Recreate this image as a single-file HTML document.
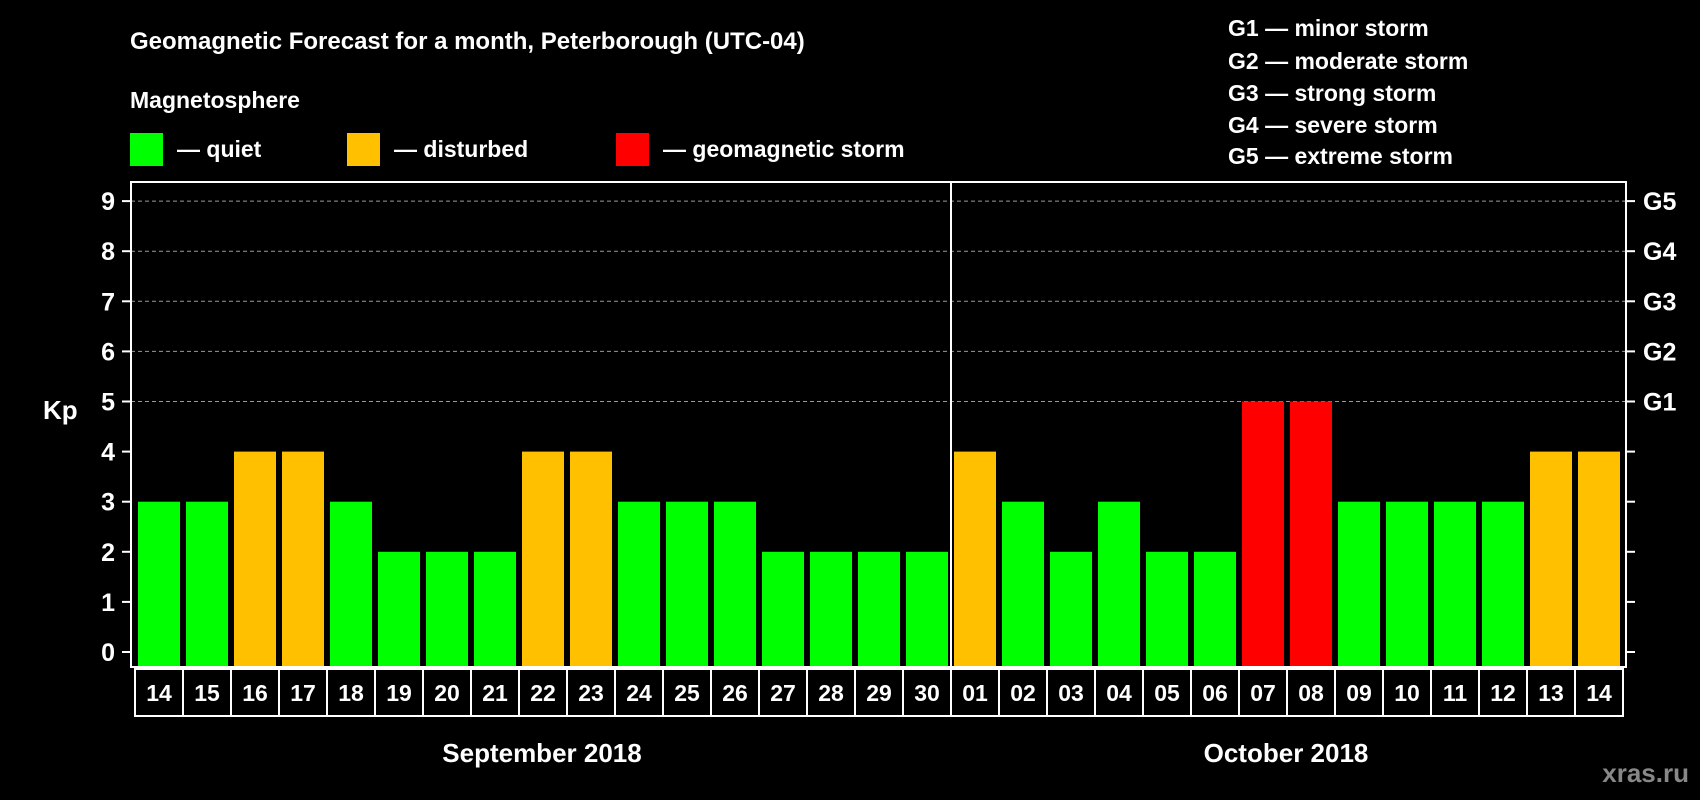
<!DOCTYPE html>
<html><head><meta charset="utf-8">
<style>
html,body{margin:0;padding:0;background:#000;}
svg{display:block;font-family:"Liberation Sans",Arial,sans-serif;font-weight:bold;}
</style></head>
<body>
<svg id="chart" width="1700" height="800" viewBox="0 0 1700 800">
<rect width="1700" height="800" fill="#000"/>
<text x="130" y="49" fill="#fff" font-size="24">Geomagnetic Forecast for a month, Peterborough (UTC-04)</text>
<text x="130" y="108" fill="#fff" font-size="23">Magnetosphere</text>
<g>
<rect x="130" y="133" width="33" height="33" fill="#00ff00"/>
<text x="177" y="157" fill="#fff" font-size="23">— quiet</text></g>
<g>
<rect x="347" y="133" width="33" height="33" fill="#ffc000"/>
<text x="394" y="157" fill="#fff" font-size="23">— disturbed</text></g>
<g>
<rect x="616" y="133" width="33" height="33" fill="#ff0000"/>
<text x="663" y="157" fill="#fff" font-size="23">— geomagnetic storm</text></g>
<g fill="#fff" font-size="23">
<text x="1228" y="36">G1 — minor storm</text>
<text x="1228" y="69">G2 — moderate storm</text>
<text x="1228" y="101">G3 — strong storm</text>
<text x="1228" y="133">G4 — severe storm</text>
<text x="1228" y="164">G5 — extreme storm</text>
</g>
<text x="43" y="419" fill="#fff" font-size="26">Kp</text>
<g id="grid"></g>
<g id="bars"></g>
<g id="axes"></g>
<text x="542" y="762" fill="#fff" font-size="26" text-anchor="middle">September 2018</text>
<text x="1286" y="762" fill="#fff" font-size="26" text-anchor="middle">October 2018</text>
<text x="1689" y="782" fill="#888" font-size="26" text-anchor="end">xras.ru</text>
</svg>
<script>
const days = ["14","15","16","17","18","19","20","21","22","23","24","25","26","27","28","29","30","01","02","03","04","05","06","07","08","09","10","11","12","13","14"];
const kpValues = [3,3,4,4,3,2,2,2,4,4,3,3,3,2,2,2,2,4,3,2,3,2,2,5,5,3,3,3,3,4,4];
const yTicks = [0,1,2,3,4,5,6,7,8,9];
const gLabels = ["G1","G2","G3","G4","G5"];
const gLevels = [5,6,7,8,9];

const NS = "http://www.w3.org/2000/svg";
const plotL = 131, plotR = 1626, plotT = 182, plotB = 667;
const slot0 = 135, slotW = 48, barW = 42;
const y = v => 652 - v * 50.1;
const xs = i => slot0 + i * slotW;
function mk(tag, attrs, parent){const e=document.createElementNS(NS,tag);for(const k in attrs)e.setAttribute(k,attrs[k]);parent.appendChild(e);return e;}
const grid = document.getElementById('grid'), bars = document.getElementById('bars'), axes = document.getElementById('axes');

gLevels.forEach((g,i)=>{
  const l = mk('line',{x1:plotL,x2:plotR,y1:y(g),y2:y(g),stroke:'#999','stroke-width':1,'stroke-dasharray':'4,3'},grid);
  
  
  const t = mk('text',{x:1643,y:y(g)+9,fill:'#fff','font-size':25},axes);
  t.textContent = gLabels[i];
  
  
});

kpValues.forEach((v,i)=>{
  const color = v >= 5 ? '#ff0000' : (v >= 4 ? '#ffc000' : '#00ff00');
  const r = mk('rect',{x:xs(i)+3,y:y(v),width:barW,height:plotB - y(v),fill:color},bars);
  
  
});

const frame = mk('rect',{x:plotL,y:plotT,width:plotR-plotL,height:plotB-plotT,fill:'none',stroke:'#fff','stroke-width':2},axes);


const div = mk('line',{x1:xs(17),x2:xs(17),y1:plotT,y2:plotB,stroke:'#fff','stroke-width':2},axes);



yTicks.forEach(v=>{
  mk('line',{x1:plotL-9,x2:plotL,y1:y(v),y2:y(v),stroke:'#fff','stroke-width':2},axes);
  mk('line',{x1:plotR,x2:plotR+9,y1:y(v),y2:y(v),stroke:'#fff','stroke-width':2},axes);
  const t = mk('text',{x:115,y:y(v)+9,fill:'#fff','font-size':25,'text-anchor':'end'},axes);
  t.textContent = v;
  
  
});

days.forEach((d,i)=>{
  const r = mk('rect',{x:xs(i),y:669,width:slotW,height:47,fill:'none',stroke:'#fff','stroke-width':2},axes);
  
  
  const t = mk('text',{x:xs(i)+slotW/2,y:701,fill:'#fff','font-size':23,'text-anchor':'middle'},axes);
  t.textContent = d;
  
  
});
</script>
</body></html>
